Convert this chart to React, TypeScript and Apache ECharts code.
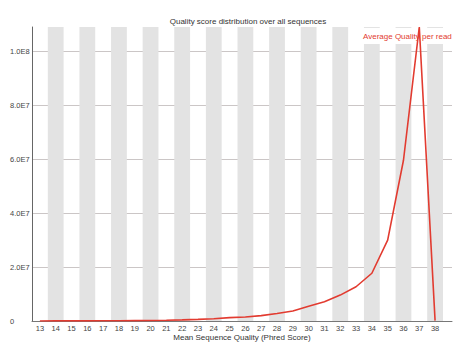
import React, { useEffect, useRef } from "react";
import * as echarts from "echarts";

// Mean Phred quality of each read (x) and number of reads (y)
const qualityScores = [13, 14, 15, 16, 17, 18, 19, 20, 21, 22, 23, 24, 25, 26, 27, 28, 29, 30, 31, 32, 33, 34, 35, 36, 37, 38];
const readCounts = [
  2.0e4, 3.0e4, 4.0e4, 6.0e4, 8.0e4, 1.1e5, 1.5e5, 2.0e5, 3.0e5, 4.2e5, 6.0e5, 8.5e5, 1.25e6,
  1.5e6, 2.0e6, 2.76e6, 3.7e6, 5.5e6, 7.1e6, 9.6e6, 1.27e7, 1.77e7, 3.0e7, 5.96e7, 1.09e8, 1.5e5,
];
const yTicks = [0, 2e7, 4e7, 6e7, 8e7, 1e8];
const yMax = 1.09e8;

const title = "Quality score distribution over all sequences";
const xTitle = "Mean Sequence Quality (Phred Score)";
const seriesName = "Average Quality per read";

const RED = "#e23b30";
const FONT = "Liberation Sans, Arial, sans-serif";

function sci(v: number): string {
  if (v === 0) return "0";
  const exp = Math.floor(Math.log10(v));
  return (v / Math.pow(10, exp)).toFixed(1) + "E" + exp;
}

export default function App() {
  const ref = useRef<HTMLDivElement>(null);

  useEffect(() => {
    if (!ref.current) return;
    const chart = echarts.init(ref.current, undefined, { renderer: "svg" });

    // alternating shaded columns on even quality scores
    const bands = qualityScores
      .filter((q) => q % 2 === 0)
      .map((q) => [{ xAxis: q - 0.5 }, { xAxis: q + 0.5 }]);

    chart.setOption({
      animation: false,
      backgroundColor: "#ffffff",
      textStyle: { fontFamily: FONT },
      title: {
        text: title,
        left: 243,
        textAlign: "center",
        top: 12,
        textStyle: { fontSize: 8, fontWeight: "normal", color: "#333", fontFamily: FONT },
      },
      grid: {
        left: 32,
        right: 5,
        top: 27,
        bottom: 21,
        containLabel: false,
        outerBoundsMode: "none",
      },
      xAxis: {
        type: "value",
        min: 12.5,
        max: 39.07,
        interval: 0.5,
        name: xTitle,
        nameLocation: "middle",
        nameGap: 12,
        nameMoveOverlap: false,
        nameTextStyle: { fontSize: 8, color: "#333", fontFamily: FONT },
        axisLine: { show: true, lineStyle: { color: "#777", width: 1 } },
        axisTick: { show: false },
        splitLine: { show: false },
        axisLabel: {
          fontSize: 7.5,
          color: "#444",
          margin: 3,
          fontFamily: FONT,
          showMaxLabel: false,
          formatter: (v: number) => (qualityScores.includes(v) ? String(v) : ""),
        },
      },
      yAxis: {
        type: "value",
        min: 0,
        max: yMax,
        interval: 2e7,
        axisLine: { show: true, lineStyle: { color: "#666", width: 1 } },
        axisTick: { show: false },
        splitLine: {
          show: true,
          showMinLine: false,
          showMaxLine: false,
          lineStyle: { color: "#cbc6c6", width: 1 },
        },
        axisLabel: {
          fontSize: 7.5,
          color: "#444",
          align: "left",
          margin: 22,
          fontFamily: FONT,
          showMaxLabel: false,
          formatter: (v: number) => (yTicks.includes(v) ? sci(v) : ""),
        },
      },
      graphic: [
        {
          type: "rect",
          z: 2,
          shape: { x: 360, y: 28, width: 96, height: 16 },
          style: { fill: "#ffffff" },
        },
        {
          type: "text",
          z: 3,
          x: 363,
          y: 36,
          style: {
            text: seriesName,
            fill: RED,
            fontSize: 8,
            fontFamily: FONT,
            verticalAlign: "middle",
          },
        },
      ],
      series: [
        {
          type: "line",
          name: "bands",
          data: [],
          silent: true,
          z: 0,
          markArea: {
            silent: true,
            itemStyle: { color: "#e3e3e3" },
            data: bands,
          },
        },
        {
          type: "line",
          name: seriesName,
          z: 10,
          data: qualityScores.map((q, i) => [q, readCounts[i]]),
          showSymbol: false,
          symbol: "none",
          lineStyle: { color: RED, width: 1.6 },
        },
      ],
    });

    return () => chart.dispose();
  }, []);

  return <div ref={ref} style={{ width: 457, height: 342, position: "absolute", left: 0, top: 0 }} />;
}
